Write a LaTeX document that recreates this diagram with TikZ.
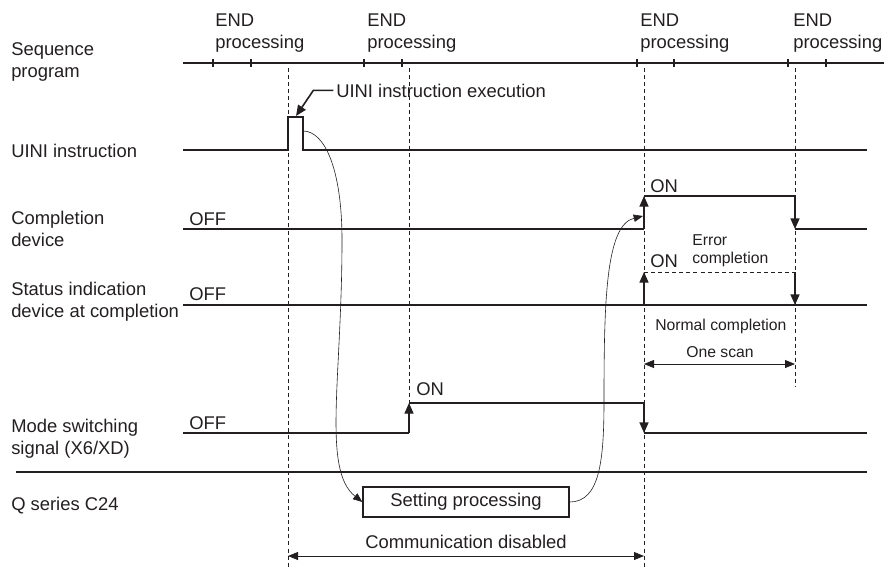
\documentclass[tikz,border=0pt]{standalone}
\usepackage{fontspec}
\setmainfont{Liberation Sans}
\usepackage{xcolor}
\definecolor{inkGray}{HTML}{231F20}
\usetikzlibrary{arrows.meta}

\tikzset{
  sig/.style={line width=1pt, inkGray},
  sigthick/.style={line width=1.6pt, inkGray},
  tickmark/.style={line width=1.3pt, inkGray},
  guide/.style={line width=0.6pt, inkGray, dash pattern=on 3pt off 2.3pt},
  flow/.style={line width=0.45pt, inkGray, -{Triangle[length=7pt,width=5.5pt]}},
  dim/.style={line width=0.6pt, inkGray, {Triangle[length=7.5pt,width=6pt]}-{Triangle[length=7.5pt,width=6pt]}},
  lbl/.style={font=\fontsize{13.8}{16.2}\selectfont, text=inkGray, inner sep=0pt, align=left},
  note/.style={font=\fontsize{11.8}{13.5}\selectfont, text=inkGray, inner sep=0pt, align=left}
}

\begin{document}
\begin{tikzpicture}[x=0.75pt, y=-0.75pt, >={Triangle[length=8pt,width=6.8pt]}]
  \useasboundingbox (0,0) rectangle (888,572);

  % row names (base = last line)
  \node[lbl, anchor=base west] (nSeq)  at (11,77)  {Sequence\\program};
  \node[lbl, anchor=base west] (nUini) at (11,157) {UINI instruction};
  \node[lbl, anchor=base west] (nComp) at (11,246) {Completion\\device};
  \node[lbl, anchor=base west] (nStat) at (11,317) {Status indication\\device at completion};
  \node[lbl, anchor=base west] (nMode) at (11,454) {Mode switching\\signal (X6/XD)};
  \node[lbl, anchor=base west] (nQ)    at (11,510) {Q series C24};

  % sequence program scans
  \draw[tickmark] (183,63) -- (884,63);
  \foreach \t in {213,251,364,402,637,674,788,826}
    \draw[tickmark] (\t,59) -- (\t,67);
  \node[lbl, anchor=base west] (end1) at (215,48) {END\\processing};
  \node[lbl, anchor=base west] (end2) at (367,48) {END\\processing};
  \node[lbl, anchor=base west] (end3) at (640,48) {END\\processing};
  \node[lbl, anchor=base west] (end4) at (793,48) {END\\processing};

  % guide lines
  \draw[guide] (288,68) -- (288,568);
  \draw[guide] (409,68) -- (409,403);
  \draw[guide] (644,68) -- (644,568);
  \draw[guide] (795,68) -- (795,387);

  % UINI instruction
  \coordinate (pulseTop) at (296,116);
  \coordinate (pulseOut) at (303,131);
  \draw[sig] (183,150) -- (288,150) -- (288,117) -- (303,117) -- (303,150) -- (867,150);
  \node[lbl, anchor=base west] (uiniExec) at (336,97) {UINI instruction execution};
  \draw[line width=1.2pt, inkGray, ->] ([xshift=-2pt]uiniExec.west) -- ++(-20,0) -- (pulseTop);

  % completion device
  \coordinate (compRise) at (643,216);
  \draw[sig] (183,229) -- (644,229);
  \draw[sig, ->] (644,229) -- (644,196);
  \draw[sig] (644,196) -- (795,196);
  \draw[sig, ->] (795,196) -- (795,229);
  \draw[sig] (795,229) -- (867,229);
  \node[lbl, anchor=base west] (offC) at (189,225) {OFF};
  \node[lbl, anchor=base west] (onC)  at (650,192) {ON};

  % status indication device at completion
  \draw[sigthick] (183,305) -- (867,305);
  \draw[sig, ->] (644,305) -- (644,272);
  \draw[guide] (644,272) -- (795,272);
  \draw[sig, ->] (795,272) -- (795,305);
  \node[lbl, anchor=base west] (offS) at (189,300) {OFF};
  \node[lbl, anchor=base west] (onS)  at (650,267) {ON};
  \node[note, anchor=base west] (errC) at (692,263) {Error\\completion};
  \node[note, anchor=base west] (normC) at (655,330) {Normal completion};

  % one scan
  \coordinate (scanL) at (644,364);
  \coordinate (scanR) at (795,364);
  \draw[dim] (scanL) -- (scanR);
  \node[note, anchor=base] (oneScan) at (720,357) {One scan};

  % mode switching signal
  \draw[sig] (183,433) -- (409,433);
  \draw[sig, ->] (409,433) -- (409,403);
  \draw[sig] (409,403) -- (644,403);
  \draw[sig, ->] (644,403) -- (644,433);
  \draw[sig] (644,433) -- (867,433);
  \node[lbl, anchor=base west] (offM) at (189,429) {OFF};
  \node[lbl, anchor=base west] (onM)  at (416,395) {ON};

  \draw[sigthick] (16,472) -- (867,472);

  % Q series C24
  \node[lbl, draw, sig, minimum width=154.5pt, minimum height=22.5pt] (setProc) at (466,502) {Setting processing};
  \draw[flow] (pulseOut) .. controls (325,131) and (342,170) .. (342,240)
    .. controls (342,380) and (322,470) .. (setProc.west);
  \draw[flow] (setProc.east) .. controls (600,502) and (604,460) .. (604,400)
    .. controls (604,300) and (606,225) .. (compRise);

  % communication disabled
  \coordinate (comL) at (288,556);
  \coordinate (comR) at (644,556);
  \draw[dim] (comL) -- (comR);
  \node[lbl, anchor=base] (comDis) at (466,548) {Communication disabled};
\end{tikzpicture}
\end{document}
